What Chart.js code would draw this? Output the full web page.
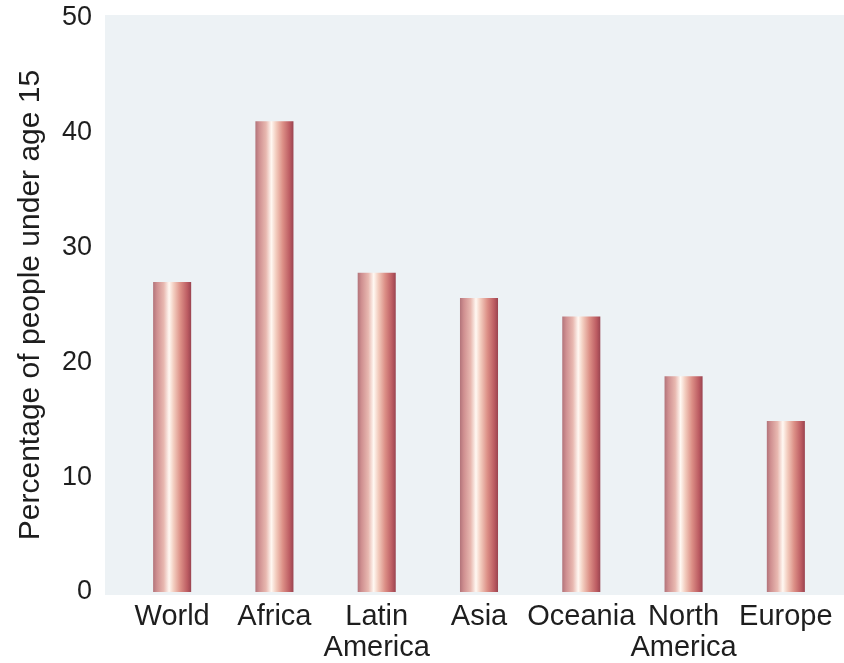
<!DOCTYPE html>
<html>
<head>
<meta charset="utf-8">
<script src="https://cdn.jsdelivr.net/npm/chart.js@4"></script>
<style>
  html, body { margin: 0; padding: 0; background: #ffffff; }
  #wrap { width: 844px; height: 663px; position: relative; }
</style>
</head>
<body>
<div id="wrap"><canvas id="chart" width="844" height="663"></canvas></div>
<script>
// Share of population under age 15, by region (%)
const regions = ['World', 'Africa', ['Latin', 'America'], 'Asia', 'Oceania', ['North', 'America'], 'Europe'];
const underFifteen = [27.0, 41.0, 27.8, 25.6, 24.0, 18.8, 14.9];
const yTicks = [0, 10, 20, 30, 40, 50];
const yTitle = 'Percentage of people under age 15';

const FONT = "'Liberation Sans', Arial, Helvetica, sans-serif";
const INK = '#1e1e1e';
const BAR_FRACTION = 0.372;

// Pale paper-tinted panel behind the plot
const panelPlugin = {
  id: 'panel',
  beforeDraw(chart) {
    const ctx = chart.ctx;
    ctx.save();
    ctx.fillStyle = '#ffffff';
    ctx.fillRect(0, 0, chart.width, chart.height);
    ctx.fillStyle = '#edf2f5';
    ctx.fillRect(105, 15, chart.width - 105, 580);
    ctx.restore();
  }
};

// Cylinder shading: a horizontal gradient spanning one bar's width
function cylinderFill(context) {
  const chart = context.chart;
  const xScale = chart.scales.x;
  if (!xScale || context.dataIndex === undefined) return '#d08a88';
  const cx = xScale.getPixelForValue(context.dataIndex);
  const half = (xScale.width / regions.length) * BAR_FRACTION / 2;
  if (!isFinite(cx) || !isFinite(half) || half <= 0) return '#d08a88';
  const g = chart.ctx.createLinearGradient(cx - half, 0, cx + half, 0);
  g.addColorStop(0.00, '#b2747a');
  g.addColorStop(0.10, '#cf8f90');
  g.addColorStop(0.28, '#e8b8b0');
  g.addColorStop(0.42, '#fff8f2');
  g.addColorStop(0.54, '#f3cdbf');
  g.addColorStop(0.72, '#dc8f86');
  g.addColorStop(0.90, '#bc5c62');
  g.addColorStop(1.00, '#9a4450');
  return g;
}

new Chart(document.getElementById('chart'), {
  type: 'bar',
  data: {
    labels: regions,
    datasets: [{
      data: underFifteen,
      backgroundColor: cylinderFill,
      borderWidth: 0,
      barPercentage: BAR_FRACTION,
      categoryPercentage: 1.0
    }]
  },
  options: {
    responsive: false,
    animation: false,
    layout: { padding: { top: 18, right: 7, bottom: 0, left: 9 } },
    plugins: {
      legend: { display: false },
      tooltip: { enabled: false }
    },
    scales: {
      x: {
        offset: true,
        grid: { display: false, drawTicks: false },
        border: { display: false },
        ticks: {
          color: INK,
          padding: 9,
          maxRotation: 0,
          autoSkip: false,
          font: { family: FONT, size: 29, lineHeight: 1.07 }
        },
        afterFit(scale) {
          scale.height = 71;
          scale.paddingLeft = 0;
          scale.paddingRight = 0;
        }
      },
      y: {
        min: 0,
        max: 50,
        grid: { display: false, drawTicks: false },
        border: { display: false },
        afterBuildTicks(scale) { scale.ticks = yTicks.map(v => ({ value: v })); },
        ticks: {
          color: INK,
          padding: 29,
          font: { family: FONT, size: 27 }
        },
        title: {
          display: true,
          text: yTitle,
          color: INK,
          padding: { top: 4, bottom: 0 },
          font: { family: FONT, size: 30, lineHeight: 1.2 }
        },
        afterFit(scale) {
          scale.width = 112;
          scale.paddingTop = 0;
          scale.paddingBottom = 0;
        }
      }
    }
  },
  plugins: [panelPlugin]
});
</script>
</body>
</html>
